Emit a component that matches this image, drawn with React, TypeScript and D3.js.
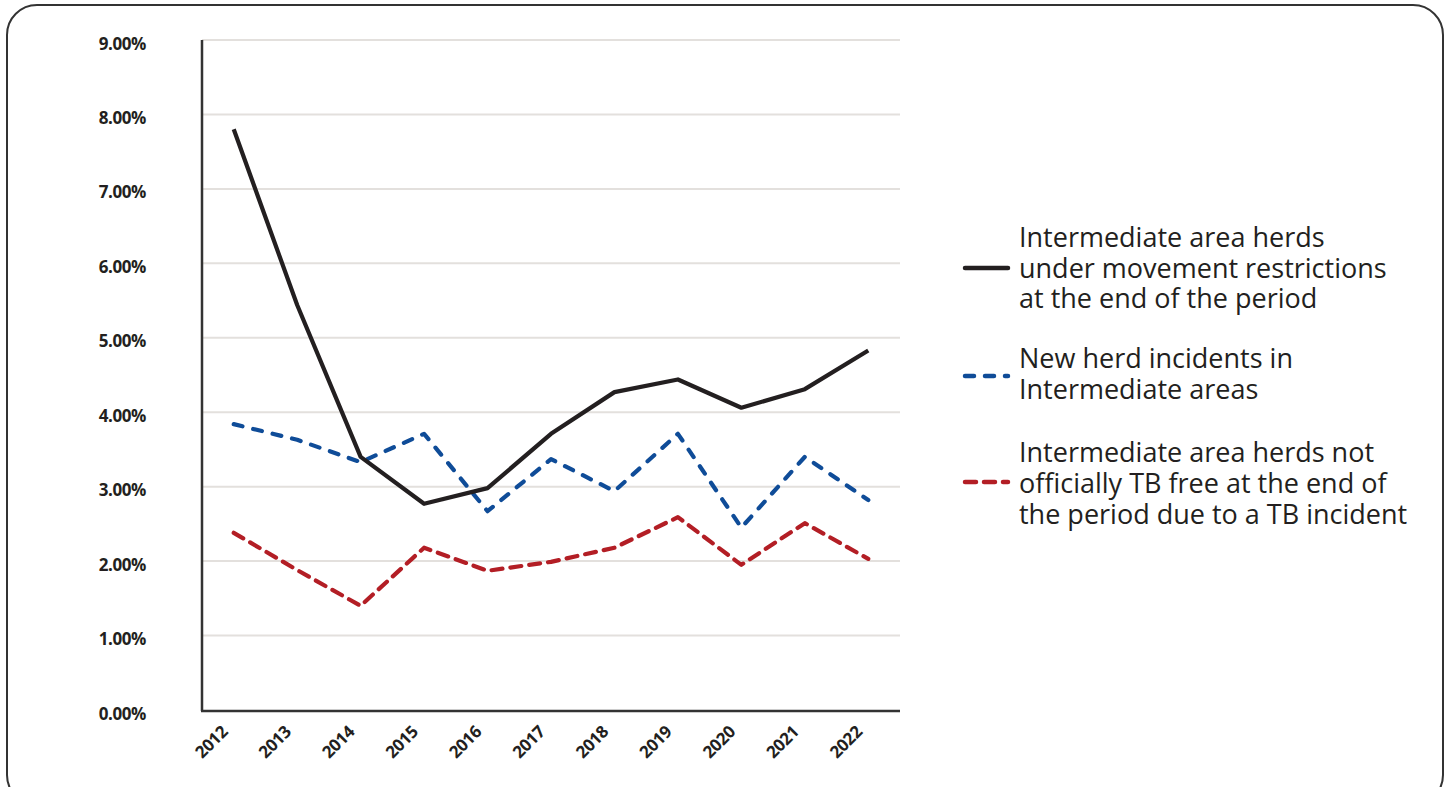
import React, { useEffect, useRef } from "react";
import * as d3 from "d3";

const years = ["2012", "2013", "2014", "2015", "2016", "2017", "2018", "2019", "2020", "2021", "2022"];
const restricted = [7.8, 5.44, 3.4, 2.77, 2.98, 3.71, 4.27, 4.44, 4.06, 4.31, 4.83];
const newIncidents = [3.84, 3.63, 3.33, 3.71, 2.67, 3.37, 2.94, 3.71, 2.45, 3.4, 2.82];
const notOTF = [2.38, 1.88, 1.4, 2.18, 1.87, 1.99, 2.18, 2.59, 1.95, 2.51, 2.03];
const yTicks = [0, 1, 2, 3, 4, 5, 6, 7, 8, 9];
const legendLabels = [
  ["Intermediate area herds", "under movement restrictions", "at the end of the period"],
  ["New herd incidents in", "Intermediate areas"],
  ["Intermediate area herds not", "officially TB free at the end of", "the period due to a TB incident"],
];

const W = 1450;
const H = 787;

export default function App() {
  const ref = useRef<SVGSVGElement>(null);
  useEffect(() => {
    const svg = d3.select(ref.current);
    svg.selectAll("*").remove();
    const font = "'Open Sans', 'Noto Sans', sans-serif";
    const ink = "#231f20";
    const blue = "#0f4c98";
    const red = "#b31e25";
    const blueDash = "9 11";
    const redDash = "11 8";

    svg
      .append("rect")
      .attr("x", 7)
      .attr("y", 5)
      .attr("width", 1436)
      .attr("height", 800)
      .attr("rx", 30)
      .attr("fill", "#fff")
      .attr("stroke", "#333")
      .attr("stroke-width", 2);

    const left = 202;
    const right = 900;
    const x = d3.scalePoint<string>().domain(years).range([left, right]).padding(0.5);
    const y = d3.scaleLinear().domain([0, 9]).range([710, 40]);

    const g = svg.append("g");
    // grid
    g.selectAll("line.grid")
      .data(yTicks.filter((t) => t > 0))
      .join("line")
      .attr("x1", left)
      .attr("x2", right)
      .attr("y1", (d) => y(d))
      .attr("y2", (d) => y(d))
      .attr("stroke", "#e3e0dd")
      .attr("stroke-width", 2);

    // y labels
    g.selectAll("text.ylab")
      .data(yTicks)
      .join("text")
      .attr("x", 146)
      .attr("y", (d) => y(d) + 9.5)
      .attr("text-anchor", "end")
      .attr("font-family", font)
      .attr("font-weight", 700)
      .attr("font-size", 17)
      .attr("letter-spacing", -0.4)
      .attr("fill", ink)
      .text((d) => d3.format(".2f")(d) + "%");

    // axes lines
    g.append("line")
      .attr("x1", left)
      .attr("x2", left)
      .attr("y1", 40)
      .attr("y2", 711)
      .attr("stroke", "#333")
      .attr("stroke-width", 2.5);
    g.append("line")
      .attr("x1", left - 1)
      .attr("x2", right)
      .attr("y1", 711)
      .attr("y2", 711)
      .attr("stroke", "#333")
      .attr("stroke-width", 2.5);

    // x labels
    g.selectAll("text.xlab")
      .data(years)
      .join("text")
      .attr("transform", (d) => `translate(${(x(d) as number) - 5},${733}) rotate(-45)`)
      .attr("text-anchor", "end")
      .attr("font-family", font)
      .attr("font-weight", 700)
      .attr("font-size", 17)
      .attr("letter-spacing", -0.4)
      .attr("fill", ink)
      .text((d) => d);

    const series = [
      { values: notOTF, color: red, dash: redDash },
      { values: newIncidents, color: blue, dash: blueDash },
      { values: restricted, color: ink, dash: null as string | null },
    ];
    const line = d3
      .line<number>()
      .x((_, i) => x(years[i]) as number)
      .y((d) => y(d));

    series.forEach((s) => {
      g.append("path")
        .attr("d", line(s.values))
        .attr("fill", "none")
        .attr("stroke", s.color)
        .attr("stroke-width", 4.2)
        .attr("stroke-linecap", s.dash ? "round" : "butt")
        .attr("stroke-linejoin", "round")
        .attr("stroke-dasharray", s.dash);
    });

    // legend
    const legendItems = [
      { color: ink, dash: null as string | null, lines: legendLabels[0], lineY: 268, textY: [247, 278, 308] },
      { color: blue, dash: blueDash, lines: legendLabels[1], lineY: 376, textY: [368, 399] },
      { color: red, dash: redDash, lines: legendLabels[2], lineY: 482, textY: [462, 493, 524] },
    ];
    legendItems.forEach((it) => {
      g.append("line")
        .attr("x1", 965)
        .attr("x2", 1008)
        .attr("y1", it.lineY)
        .attr("y2", it.lineY)
        .attr("stroke", it.color)
        .attr("stroke-width", 4.5)
        .attr("stroke-linecap", "round")
        .attr("stroke-dasharray", it.dash);
      it.lines.forEach((t, i) => {
        g.append("text")
          .attr("x", 1019)
          .attr("y", it.textY[i])
          .attr("font-family", font)
          .attr("font-size", 27)
          .attr("fill", ink)
          .text(t);
      });
    });
  }, []);

  return (
    <svg
      ref={ref}
      width={W}
      height={H}
      style={{ position: "absolute", left: 0, top: 0, background: "#fff" }}
    />
  );
}
